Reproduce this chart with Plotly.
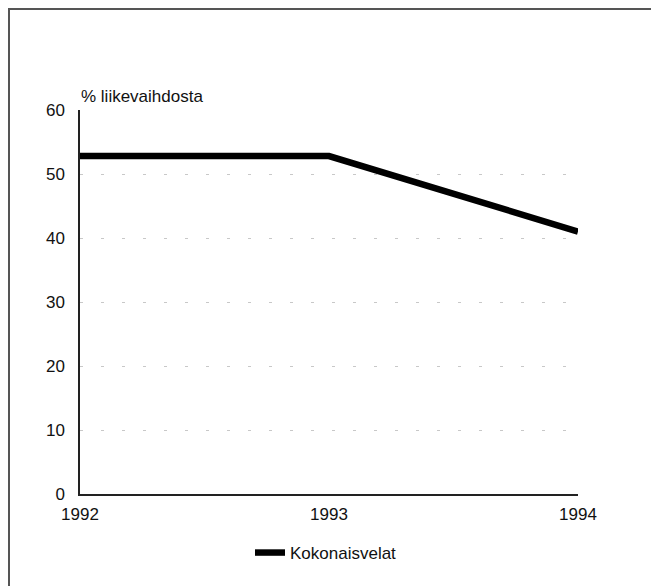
import plotly.graph_objects as go

years = [1992, 1993, 1994]
kokonaisvelat = [52.8, 52.8, 41.0]
y_ticks = [0, 10, 20, 30, 40, 50, 60]
x_ticks = [1992, 1993, 1994]
series_name = "Kokonaisvelat"
y_title = "% liikevaihdosta"

OFF = 8  # page body margin offset
W, H = 659, 586
L, R, T, B = 80 - OFF, 81 + OFF, 110 - OFF, 92 + OFF
pw = W - L - R
ph = H - T - B

def px_to_paper_x(px):
    return (px - OFF - L) / pw

def px_to_paper_y(py):
    return (H - B - (py - OFF)) / ph

fig = go.Figure()
fig.add_trace(go.Scatter(
    x=years, y=kokonaisvelat, mode="lines", name=series_name,
    line=dict(color="black", width=6.5),
))

font = dict(family="Liberation Sans, Arial, sans-serif", size=17, color="#111")

fig.update_layout(
    width=W, height=H,
    margin=dict(l=L, r=R, t=T, b=B),
    paper_bgcolor="white", plot_bgcolor="white",
    font=font,
    showlegend=True,
    legend=dict(orientation="h", x=px_to_paper_x(250), xanchor="left", y=px_to_paper_y(553), yanchor="middle",
                font=font, itemwidth=30, bgcolor="rgba(0,0,0,0)"),
    xaxis=dict(range=[1992, 1994], tickvals=x_ticks, ticktext=[str(v) for v in x_ticks],
               showgrid=False, zeroline=False, showline=True, linecolor="#222", linewidth=1.5,
               ticks="", ticklen=0, tickfont=font, ticklabelstandoff=4),
    yaxis=dict(range=[0, 60], tickvals=y_ticks, showgrid=True, gridcolor="#c8c8c8", gridwidth=1,
               griddash="3px 18px", zeroline=False, showline=True, linecolor="#222", linewidth=1.5,
               ticks="", ticklen=0, tickfont=font, ticklabelstandoff=10),
    annotations=[dict(text=y_title, xref="paper", yref="paper", x=px_to_paper_x(79), y=px_to_paper_y(97),
                      xanchor="left", yanchor="middle", showarrow=False, font=font)],
    shapes=[dict(type="rect", xref="paper", yref="paper",
                 x0=px_to_paper_x(9), x1=px_to_paper_x(653),
                 y0=px_to_paper_y(600), y1=px_to_paper_y(9),
                 line=dict(color="#555", width=2), fillcolor="rgba(0,0,0,0)", layer="below")],
)

fig.write_html("out.html")
